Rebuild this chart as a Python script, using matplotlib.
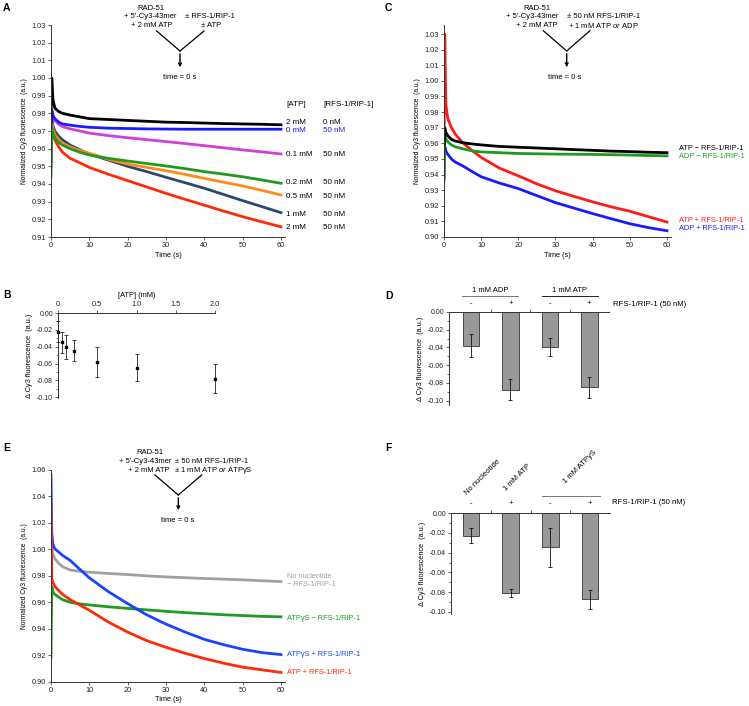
import matplotlib
matplotlib.use('Agg')
import matplotlib.pyplot as plt
from matplotlib.lines import Line2D
from matplotlib.ticker import MultipleLocator, FuncFormatter

plt.rcParams['font.family'] = ['Liberation Sans', 'DejaVu Sans']
plt.rcParams['axes.unicode_minus'] = False
plt.rcParams['mathtext.fontset'] = 'custom'
plt.rcParams['mathtext.it'] = 'Liberation Sans:italic'
plt.rcParams['mathtext.rm'] = 'Liberation Sans'

W, H = 749, 706

# ---------------- data ----------------
time_s = [0, 0.2, 0.5, 1, 2, 3, 5, 7.5, 10, 15, 20, 25, 30, 35, 40, 45, 50, 55, 60]

# Panel A: [ATP] titration
a_black = [0.975, 1.000, 0.988, 0.983, 0.981, 0.980, 0.979, 0.978, 0.977, 0.9765, 0.976, 0.9755, 0.975, 0.9748, 0.9745, 0.9742, 0.974, 0.9738, 0.9735]
a_blue = [0.972, 0.982, 0.979, 0.977, 0.975, 0.974, 0.9733, 0.9726, 0.9721, 0.9716, 0.9714, 0.9712, 0.9711, 0.971, 0.971, 0.971, 0.971, 0.971, 0.971]
a_magenta = [0.972, 0.980, 0.978, 0.976, 0.9738, 0.9725, 0.9712, 0.970, 0.9688, 0.9674, 0.9662, 0.9651, 0.964, 0.9629, 0.9617, 0.9605, 0.9593, 0.9582, 0.957]
a_green = [0.944, 0.972, 0.969, 0.966, 0.9635, 0.962, 0.960, 0.958, 0.9564, 0.9545, 0.953, 0.9516, 0.9502, 0.9487, 0.947, 0.9456, 0.9441, 0.9423, 0.9404]
a_orange = [0.955, 0.975, 0.971, 0.968, 0.965, 0.963, 0.961, 0.959, 0.9574, 0.954, 0.9513, 0.9494, 0.9475, 0.9454, 0.9432, 0.941, 0.9389, 0.9364, 0.9338]
a_navy = [0.955, 0.978, 0.973, 0.970, 0.967, 0.965, 0.962, 0.9594, 0.957, 0.9535, 0.950, 0.947, 0.9438, 0.9407, 0.9376, 0.9341, 0.9306, 0.9272, 0.9238]
a_red = [0.950, 0.972, 0.968, 0.965, 0.961, 0.958, 0.9545, 0.952, 0.9494, 0.9455, 0.9419, 0.9383, 0.9347, 0.9313, 0.928, 0.9247, 0.9215, 0.9186, 0.9158]
atp_labels = ['2 mM', '0 mM', '0.1 mM', '0.2 mM', '0.5 mM', '1 mM', '2 mM']
rfs_labels = ['0 nM', '50 nM', '50 nM', '50 nM', '50 nM', '50 nM', '50 nM']

# Panel B
b_atp = [0, 0.05, 0.1, 0.2, 0.5, 1.0, 2.0]
b_delta = [-0.022, -0.0345, -0.0404, -0.0447, -0.0584, -0.0647, -0.078]
b_err = [0.012, 0.0125, 0.014, 0.0124, 0.018, 0.0165, 0.0172]

# Panel C
c_atp_minus = [0.955, 0.970, 0.967, 0.965, 0.9625, 0.9615, 0.9604, 0.9596, 0.959, 0.958, 0.9575, 0.957, 0.9565, 0.956, 0.9555, 0.955, 0.9547, 0.9543, 0.954]
c_adp_minus = [0.936, 0.966, 0.963, 0.961, 0.959, 0.9578, 0.9565, 0.9552, 0.9545, 0.954, 0.9535, 0.9533, 0.9531, 0.953, 0.9529, 0.9527, 0.9525, 0.9522, 0.952]
c_atp_plus = [0.950, 1.030, 0.985, 0.976, 0.970, 0.966, 0.9605, 0.9555, 0.951, 0.944, 0.9392, 0.934, 0.9296, 0.926, 0.9225, 0.9193, 0.9165, 0.913, 0.9096]
c_adp_plus = [0.938, 0.958, 0.955, 0.953, 0.950, 0.948, 0.9456, 0.942, 0.9386, 0.9345, 0.931, 0.9265, 0.922, 0.9185, 0.915, 0.9117, 0.9085, 0.906, 0.904]

# Panel D
d_values = [-0.0378, -0.0876, -0.0393, -0.085]
d_err = [0.0134, 0.012, 0.0105, 0.0118]
d_signs = ['-', '+', '-', '+']

# Panel E
e_none = [0.990, 1.002, 0.996, 0.993, 0.9895, 0.987, 0.9844, 0.9834, 0.9828, 0.9818, 0.981, 0.980, 0.9792, 0.9786, 0.978, 0.9775, 0.977, 0.9763, 0.9757]
e_atpgs_minus = [0.918, 0.972, 0.968, 0.966, 0.964, 0.962, 0.960, 0.9588, 0.958, 0.9566, 0.9554, 0.9543, 0.9532, 0.9522, 0.9514, 0.9506, 0.950, 0.9494, 0.949]
e_atpgs_plus = [1.056, 1.012, 1.004, 1.0005, 0.998, 0.9955, 0.9917, 0.985, 0.9785, 0.968, 0.959, 0.9505, 0.9435, 0.9375, 0.932, 0.928, 0.9245, 0.922, 0.9205]
e_atp_plus = [1.033, 0.978, 0.975, 0.972, 0.969, 0.966, 0.962, 0.958, 0.954, 0.945, 0.9375, 0.931, 0.926, 0.9215, 0.9175, 0.914, 0.911, 0.909, 0.907]

# Panel F
f_values = [-0.0227, -0.0814, -0.0346, -0.0875]
f_err = [0.0078, 0.004, 0.0195, 0.0098]
f_signs = ['-', '+', '-', '+']

# ---------------- helpers ----------------
fig = plt.figure(figsize=(W / 100, H / 100), dpi=100)

SP = '#333333'
fmt2 = FuncFormatter(lambda v, p: ('%.2f' % v).replace('-0.00', '0.00'))


def add_ax(l, t, r, b):
    return fig.add_axes([l / W, 1 - b / H, (r - l) / W, (b - t) / H])


def ftext(px, py, s, **kw):
    kw.setdefault('fontsize', 5.3)
    kw.setdefault('va', 'center')
    return fig.text(px / W, 1 - py / H, s, **kw)


def fline(x1, y1, x2, y2, **kw):
    kw.setdefault('color', 'k')
    kw.setdefault('lw', 0.9)
    fig.add_artist(Line2D([x1 / W, x2 / W], [1 - y1 / H, 1 - y2 / H], transform=fig.transFigure, **kw))


def farrow(x, y1, y2):
    fig.add_artist(matplotlib.patches.FancyArrowPatch((x / W, 1 - y1 / H), (x / W, 1 - y2 / H),
                   transform=fig.transFigure, arrowstyle='->', mutation_scale=5, lw=1.0, color='k'))


def style_trace(ax):
    for s in ['top', 'right']:
        ax.spines[s].set_visible(False)
    for s in ['left', 'bottom']:
        ax.spines[s].set_color(SP)
        ax.spines[s].set_linewidth(0.7)
    ax.tick_params(direction='out', length=2, width=0.5, labelsize=5.3, pad=1.5, colors='#222222')
    ax.xaxis.set_major_locator(MultipleLocator(10))
    ax.yaxis.set_major_formatter(fmt2)
    ax.set_xlabel('Time (s)', fontsize=5.3, labelpad=2)
    ax.set_ylabel('Normalized Cy3 fluorescence  (a.u.)', fontsize=4.8, labelpad=3)


def style_bar(ax):
    for s in ['bottom', 'right']:
        ax.spines[s].set_visible(False)
    for s in ['left', 'top']:
        ax.spines[s].set_color(SP)
        ax.spines[s].set_linewidth(0.7)
    ax.tick_params(direction='out', length=2, width=0.5, labelsize=5.0, pad=1.5, colors='#222222')
    ax.tick_params(which='minor', direction='out', length=1.2, width=0.4)
    ax.yaxis.set_major_locator(MultipleLocator(0.02))
    ax.yaxis.set_minor_locator(MultipleLocator(0.01))
    ax.yaxis.set_major_formatter(fmt2)
    ax.set_ylabel('\u0394 Cy3 fluorescence  (a.u.)', fontsize=5.3, labelpad=3)


LW = 2.0

# ---------------- Panel A ----------------
axA = add_ax(51, 25, 284.8, 237)
for y, c in [(a_red, '#ff2a0a'), (a_navy, '#2b4a6b'), (a_orange, '#ff8c1a'), (a_green, '#1f9a1f'),
             (a_magenta, '#d23fd2'), (a_blue, '#1a1aff'), (a_black, '#000000')]:
    axA.plot(time_s, y, color=c, lw=LW)
axA.set_xlim(0, 61)
axA.set_ylim(0.91, 1.03)
axA.yaxis.set_major_locator(MultipleLocator(0.01))
style_trace(axA)

ftext(286, 105, '[ATP]', fontsize=5.8)
ftext(323, 105, '[RFS-1/RIP-1]', fontsize=5.8)
a_label_y = [122, 130, 154, 183, 196, 214, 227]
for lab1, lab2, py in zip(atp_labels, rfs_labels, a_label_y):
    col = '#1a1aff' if lab1 == '0 mM' else 'k'
    ftext(286, py, lab1, fontsize=5.8, color=col)
    ftext(323, py, lab2, fontsize=5.8, color=col)

ftext(150.5, 8.3, 'RAD-51', ha='center', fontsize=5.5)
ftext(150.5, 16.7, "+ 5'-Cy3-43mer", ha='center', fontsize=5.5)
ftext(151.5, 25.7, '+ 2 mM ATP', ha='center', fontsize=5.5)
ftext(210, 16.7, '\u00b1 RFS-1/RIP-1', ha='center', fontsize=5.5)
ftext(211, 25.7, '\u00b1 ATP', ha='center', fontsize=5.5)
fline(156.7, 31, 180, 51)
fline(204, 31, 180, 51)
farrow(180, 51, 70)
ftext(180, 77.3, 'time = 0 s', ha='center', fontsize=5.5)

# ---------------- Panel B ----------------
axB = add_ax(58, 313, 215, 398.1)
axB.errorbar(b_atp, b_delta, yerr=b_err, fmt='s', ms=2, color='k', ecolor='#222222',
             elinewidth=0.6, capsize=1.5, capthick=0.6, clip_on=False)
axB.set_xlim(0, 2.0)
axB.set_ylim(-0.101, 0)
style_bar(axB)
axB.xaxis.tick_top()
axB.xaxis.set_label_position('top')
axB.set_xticks([0, 0.5, 1.0, 1.5, 2.0])
axB.set_xticklabels(['0', '0.5', '1.0', '1.5', '2.0'])
axB.tick_params(axis='x', labelsize=5.3)
axB.set_xlabel('[ATP] (mM)', fontsize=5.3, labelpad=3)

# ---------------- Panel C ----------------
axC = add_ax(444, 25, 670.7, 237)
for y, c in [(c_adp_plus, '#1a1aff'), (c_atp_plus, '#ff1a1a'), (c_adp_minus, '#1f9a1f'), (c_atp_minus, '#000000')]:
    axC.plot(time_s, y, color=c, lw=LW)
axC.set_xlim(0, 61)
axC.set_ylim(0.90, 1.0358)
axC.yaxis.set_major_locator(MultipleLocator(0.01))
style_trace(axC)

ftext(679, 149, 'ATP \u2212 RFS-1/RIP-1', color='k')
ftext(679, 157, 'ADP \u2212 RFS-1/RIP-1', color='#1f9a1f')
ftext(679, 221, 'ATP + RFS-1/RIP-1', color='#ff1a1a')
ftext(679, 229, 'ADP + RFS-1/RIP-1', color='#1a1aff')

ftext(537, 8.3, 'RAD-51', ha='center', fontsize=5.5)
ftext(532, 16.7, "+ 5'-Cy3-43mer", ha='center', fontsize=5.5)
ftext(537, 25.7, '+ 2 mM ATP', ha='center', fontsize=5.5)
ftext(604, 16.7, '\u00b1 50 nM RFS-1/RIP-1', ha='center', fontsize=5.5)
ftext(603, 25.7, '+ 1 mM ATP $\\it{or}$ ADP', ha='center', fontsize=5.5)
fline(543.3, 30.7, 566.7, 51)
fline(590, 30.7, 566.7, 51)
farrow(566.7, 51, 70)
ftext(565, 77.3, 'time = 0 s', ha='center', fontsize=5.5)

# ---------------- Panel D ----------------
axD = add_ax(449, 312, 609, 405.1)
pos = list(range(len(d_values)))
axD.bar(pos, d_values, width=0.42, color='#999999', edgecolor='#333333', linewidth=0.6)
axD.errorbar(pos, d_values, yerr=d_err, fmt='none', ecolor='#111111', elinewidth=0.6, capsize=1.5, capthick=0.6)
axD.set_xlim(-0.56, 3.5)
axD.set_ylim(-0.105, 0)
style_bar(axD)
axD.xaxis.tick_top()
axD.set_xticks([0.5, 1.5, 2.5])
axD.set_xticklabels([])
for p, s in zip(pos, d_signs):
    axD.text(p, 1.09, s, transform=axD.get_xaxis_transform(), ha='center', va='center', fontsize=5.5)
ftext(613, 304, 'RFS-1/RIP-1 (50 nM)', fontsize=5.6)
ftext(490, 290, '1 mM ADP', ha='center', fontsize=5.5)
fline(462, 295.5, 518, 295.5, color='#777777', lw=0.7)
ftext(570, 290, '1 mM ATP', ha='center', fontsize=5.5)
fline(542, 295.5, 598, 295.5, color='#222222', lw=0.7)

# ---------------- Panel E ----------------
axE = add_ax(51, 470, 284.8, 681.7)
for y, c in [(e_none, '#a0a0a0'), (e_atpgs_minus, '#229a22'), (e_atpgs_plus, '#1a44ff'), (e_atp_plus, '#ff2a0a')]:
    axE.plot(time_s, y, color=c, lw=LW)
axE.set_xlim(0, 61)
axE.set_ylim(0.90, 1.06)
axE.yaxis.set_major_locator(MultipleLocator(0.02))
style_trace(axE)

ftext(287, 577, 'No nucleotide', color='#a0a0a0')
ftext(287, 585, '\u2212 RFS-1/RIP-1', color='#a0a0a0')
ftext(287, 618, 'ATP\u03b3S \u2212 RFS-1/RIP-1', color='#229a22')
ftext(287, 654, 'ATP\u03b3S + RFS-1/RIP-1', color='#1a44ff')
ftext(287, 673, 'ATP + RFS-1/RIP-1', color='#ff2a0a')

ftext(149.7, 452.3, 'RAD-51', ha='center', fontsize=5.5)
ftext(145, 461.7, "+ 5'-Cy3-43mer", ha='center', fontsize=5.5)
ftext(149, 470, '+ 2 mM ATP', ha='center', fontsize=5.5)
ftext(212, 461.7, '\u00b1 50 nM RFS-1/RIP-1', ha='center', fontsize=5.5)
ftext(213, 470, '\u00b1 1 mM ATP $\\it{or}$ ATP\u03b3S', ha='center', fontsize=5.5)
fline(155, 475, 178.3, 495)
fline(201.7, 475, 178.3, 495)
farrow(178.3, 495, 513)
ftext(178, 520, 'time = 0 s', ha='center', fontsize=5.5)

# ---------------- Panel F ----------------
axF = add_ax(451, 513.3, 610, 613.7)
posf = list(range(len(f_values)))
axF.bar(posf, f_values, width=0.42, color='#999999', edgecolor='#333333', linewidth=0.6)
axF.errorbar(posf, f_values, yerr=f_err, fmt='none', ecolor='#111111', elinewidth=0.6, capsize=1.5, capthick=0.6)
axF.set_xlim(-0.504, 3.504)
axF.set_ylim(-0.102, 0)
style_bar(axF)
axF.xaxis.tick_top()
axF.set_xticks([0.5, 1.5, 2.5])
axF.set_xticklabels([])
for p, s in zip(posf, f_signs):
    axF.text(p, 1.1, s, transform=axF.get_xaxis_transform(), ha='center', va='center', fontsize=5.5)
ftext(612, 503, 'RFS-1/RIP-1 (50 nM)', fontsize=5.6)
fig.text(468.3 / W, 1 - 496 / H, 'No nucleotide', rotation=45, rotation_mode='anchor',
         ha='left', va='bottom', fontsize=5.5)
fig.text(507.7 / W, 1 - 492.7 / H, '1 mM ATP', rotation=45, rotation_mode='anchor',
         ha='left', va='bottom', fontsize=5.5)
fig.text(566.7 / W, 1 - 485 / H, '1 mM ATP\u03b3S', rotation=45, rotation_mode='anchor',
         ha='left', va='bottom', fontsize=5.5)
fline(542.3, 496, 600, 496, color='#777777', lw=0.7)

# ---------------- panel letters ----------------
for px, py, s in [(3, 8, 'A'), (3, 295, 'B'), (385, 8, 'C'), (385, 296, 'D'), (3, 448, 'E'), (385, 448, 'F')]:
    ftext(px, py, s, fontsize=7.5, fontweight='bold')

fig.savefig('out.png', dpi=100)
